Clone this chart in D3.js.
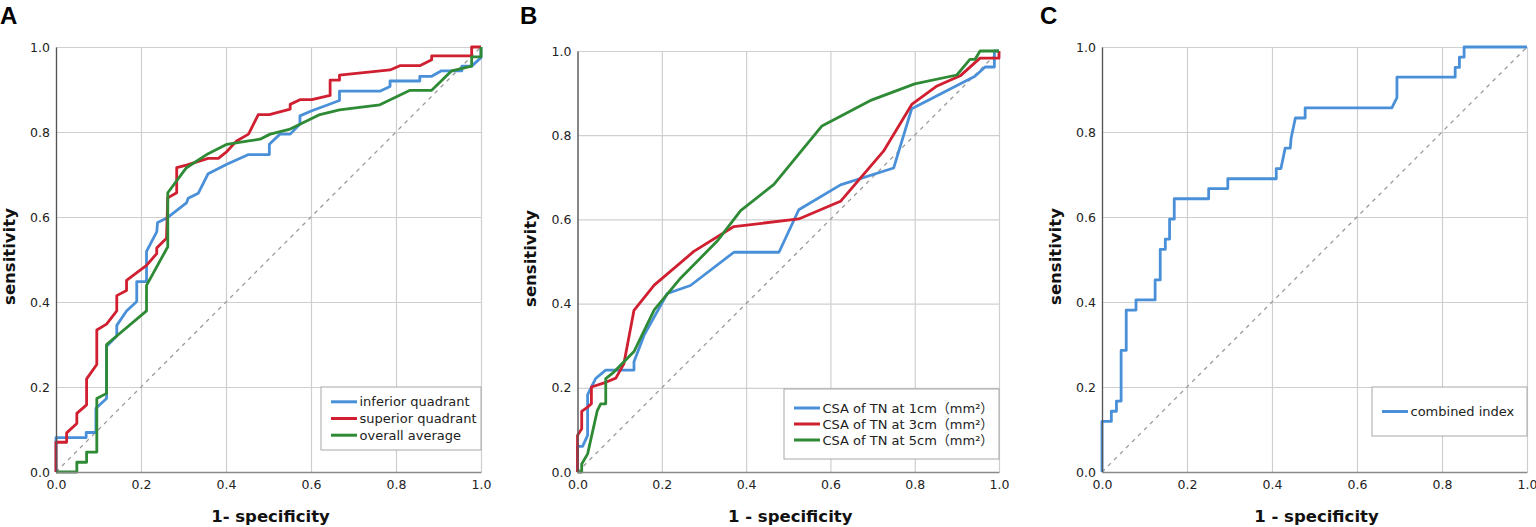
<!DOCTYPE html>
<html>
<head>
<meta charset="utf-8">
<script src="https://cdn.jsdelivr.net/npm/d3@7"></script>
<style>
  body { margin: 0; background: #fff; }
  svg { display: block; font-family: "DejaVu Sans", sans-serif; }
</style>
</head>
<body>
<svg id="chart" width="1536" height="527"></svg>
<script>
// ROC points, as [1 - specificity, sensitivity]

// Panel A
const inferiorQuadrant = [
  [0, 0], [0, 0.081], [0.071, 0.081], [0.071, 0.093], [0.094, 0.093], [0.094, 0.150],
  [0.119, 0.173], [0.119, 0.296], [0.143, 0.320], [0.143, 0.345], [0.166, 0.379],
  [0.190, 0.401], [0.190, 0.448], [0.213, 0.448], [0.213, 0.519], [0.237, 0.565],
  [0.239, 0.587], [0.260, 0.597], [0.307, 0.633], [0.311, 0.644], [0.335, 0.656],
  [0.358, 0.702], [0.402, 0.724], [0.453, 0.747], [0.502, 0.747], [0.502, 0.771],
  [0.527, 0.795], [0.551, 0.795], [0.574, 0.819], [0.574, 0.838], [0.602, 0.850],
  [0.667, 0.874], [0.667, 0.896], [0.762, 0.896], [0.786, 0.907], [0.786, 0.920],
  [0.856, 0.920], [0.856, 0.931], [0.884, 0.931], [0.907, 0.944], [0.955, 0.944],
  [0.955, 0.955], [0.978, 0.955], [1, 0.975], [1, 1]
];
const superiorQuadrant = [
  [0, 0], [0, 0.070], [0.025, 0.070], [0.025, 0.092], [0.049, 0.114], [0.049, 0.138],
  [0.072, 0.158], [0.072, 0.219], [0.096, 0.253], [0.096, 0.334], [0.119, 0.348],
  [0.143, 0.379], [0.143, 0.415], [0.166, 0.427], [0.166, 0.451], [0.213, 0.486],
  [0.237, 0.514], [0.237, 0.527], [0.260, 0.550], [0.263, 0.645], [0.284, 0.657],
  [0.284, 0.716], [0.307, 0.722], [0.358, 0.738], [0.382, 0.738], [0.402, 0.754],
  [0.425, 0.779], [0.453, 0.795], [0.476, 0.841], [0.502, 0.841], [0.551, 0.854],
  [0.551, 0.865], [0.574, 0.876], [0.602, 0.876], [0.645, 0.886], [0.645, 0.922],
  [0.667, 0.922], [0.667, 0.934], [0.786, 0.946], [0.809, 0.956], [0.856, 0.956],
  [0.884, 0.970], [0.884, 0.979], [0.978, 0.979], [0.978, 1], [1, 1]
];
const overallAverage = [
  [0, 0], [0.049, 0], [0.049, 0.023], [0.072, 0.023], [0.072, 0.047], [0.096, 0.047],
  [0.096, 0.173], [0.119, 0.185], [0.119, 0.300], [0.213, 0.379], [0.213, 0.439],
  [0.263, 0.530], [0.263, 0.657], [0.307, 0.716], [0.358, 0.749], [0.402, 0.771],
  [0.453, 0.779], [0.480, 0.783], [0.504, 0.795], [0.551, 0.807], [0.621, 0.841],
  [0.667, 0.852], [0.762, 0.864], [0.833, 0.898], [0.884, 0.898], [0.931, 0.944],
  [0.978, 0.955], [0.978, 0.977], [1, 0.977], [1, 1]
];

// Panel B
const csa1cm = [
  [0, 0], [0, 0.061], [0.012, 0.061], [0.024, 0.087], [0.024, 0.184], [0.043, 0.222],
  [0.067, 0.242], [0.134, 0.242], [0.134, 0.262], [0.158, 0.325], [0.213, 0.424],
  [0.268, 0.443], [0.371, 0.522], [0.478, 0.522], [0.525, 0.623], [0.624, 0.682],
  [0.750, 0.722], [0.793, 0.863], [0.943, 0.940], [0.967, 0.962], [0.989, 0.962],
  [0.989, 1], [1, 1]
];
const csa3cm = [
  [0, 0], [0, 0.087], [0.010, 0.103], [0.010, 0.144], [0.024, 0.154], [0.033, 0.162],
  [0.033, 0.202], [0.067, 0.213], [0.091, 0.223], [0.110, 0.257], [0.134, 0.384],
  [0.182, 0.444], [0.276, 0.524], [0.371, 0.583], [0.525, 0.601], [0.624, 0.643],
  [0.726, 0.762], [0.793, 0.873], [0.853, 0.917], [0.908, 0.941], [0.955, 0.983],
  [1, 0.983], [1, 1]
];
const csa5cm = [
  [0, 0], [0.010, 0], [0.010, 0.019], [0.024, 0.043], [0.047, 0.146], [0.055, 0.162],
  [0.067, 0.162], [0.067, 0.222], [0.087, 0.238], [0.134, 0.286], [0.182, 0.385],
  [0.245, 0.461], [0.331, 0.548], [0.387, 0.621], [0.466, 0.683], [0.580, 0.822],
  [0.694, 0.882], [0.800, 0.922], [0.900, 0.943], [0.931, 0.980], [0.943, 0.980],
  [0.955, 1], [1, 1]
];

// Panel C
const combinedIndex = [
  [0, 0], [0, 0.119], [0.022, 0.119], [0.022, 0.143], [0.034, 0.143], [0.034, 0.167],
  [0.045, 0.167], [0.045, 0.286], [0.057, 0.286], [0.057, 0.381], [0.080, 0.381],
  [0.080, 0.405], [0.125, 0.405], [0.125, 0.452], [0.137, 0.452], [0.137, 0.524],
  [0.149, 0.524], [0.149, 0.548], [0.159, 0.548], [0.159, 0.595], [0.170, 0.595],
  [0.170, 0.643], [0.251, 0.643], [0.251, 0.667], [0.296, 0.667], [0.296, 0.690],
  [0.410, 0.690], [0.410, 0.714], [0.421, 0.714], [0.431, 0.762], [0.443, 0.762],
  [0.445, 0.786], [0.455, 0.833], [0.478, 0.833], [0.478, 0.857], [0.682, 0.857],
  [0.694, 0.881], [0.694, 0.929], [0.831, 0.929], [0.831, 0.952], [0.841, 0.952],
  [0.841, 0.976], [0.852, 0.976], [0.852, 1], [1, 1]
];

const axisTicks = [0, 0.2, 0.4, 0.6, 0.8, 1.0];

const seriesLabelsA = ['inferior quadrant', 'superior quadrant', 'overall average'];
const seriesLabelsB = ['CSA of TN at 1cm（mm²）', 'CSA of TN at 3cm（mm²）', 'CSA of TN at 5cm（mm²）'];
const seriesLabelsC = ['combined index'];

const BLUE = '#4a90d9';
const RED = '#d01f30';
const GREEN = '#2e8a35';

const panels = [
  {
    letter: 'A', letterX: 0, left: 56, top: 47, width: 425, height: 425,
    xTitle: '1- specificity',
    series: [
      { label: seriesLabelsA[0], color: BLUE, points: inferiorQuadrant },
      { label: seriesLabelsA[1], color: RED, points: superiorQuadrant },
      { label: seriesLabelsA[2], color: GREEN, points: overallAverage }
    ],
    legend: { width: 160, height: 63, bottomGap: 22, rowHeight: 16.7 }
  },
  {
    letter: 'B', letterX: 520, left: 577.5, top: 51, width: 421.5, height: 421,
    xTitle: '1 - specificity',
    series: [
      { label: seriesLabelsB[0], color: BLUE, points: csa1cm },
      { label: seriesLabelsB[1], color: RED, points: csa3cm },
      { label: seriesLabelsB[2], color: GREEN, points: csa5cm }
    ],
    legend: { width: 215, height: 70, bottomGap: 13, rowHeight: 16 }
  },
  {
    letter: 'C', letterX: 1040, left: 1102, top: 47, width: 425, height: 425,
    xTitle: '1 - specificity',
    series: [
      { label: seriesLabelsC[0], color: BLUE, points: combinedIndex }
    ],
    legend: { width: 155, height: 49, bottomGap: 36, rowHeight: 16.7 }
  }
];

const svg = d3.select('#chart');

function drawPanel(p) {
  const x = d3.scaleLinear().domain([0, 1]).range([0, p.width]);
  const y = d3.scaleLinear().domain([0, 1]).range([p.height, 0]);

  // panel letter
  svg.append('text')
    .attr('x', p.letterX)
    .attr('y', 24)
    .attr('font-family', '"Liberation Sans", Arial, sans-serif')
    .attr('font-weight', 'bold')
    .attr('font-size', 24)
    .attr('fill', '#000')
    .text(p.letter);

  const g = svg.append('g').attr('transform', `translate(${p.left},${p.top})`);

  // grid
  g.append('g')
    .attr('class', 'grid')
    .call(d3.axisBottom(x).tickValues(axisTicks).tickSize(-p.height).tickFormat(''))
    .attr('transform', `translate(0,${p.height})`)
    .call(s => s.select('.domain').remove())
    .call(s => s.selectAll('line').attr('stroke', '#cfcfcf').attr('stroke-width', 1.2));
  g.append('g')
    .attr('class', 'grid')
    .call(d3.axisLeft(y).tickValues(axisTicks).tickSize(-p.width).tickFormat(''))
    .call(s => s.select('.domain').remove())
    .call(s => s.selectAll('line').attr('stroke', '#cfcfcf').attr('stroke-width', 1.2));

  // chance line
  g.append('line')
    .attr('x1', x(0)).attr('y1', y(0))
    .attr('x2', x(1)).attr('y2', y(1))
    .attr('stroke', '#9a9a9a')
    .attr('stroke-width', 1.3)
    .attr('stroke-dasharray', '4,4.5');

  // curves
  const line = d3.line().x(d => x(d[0])).y(d => y(d[1]));
  p.series.forEach(s => {
    g.append('path')
      .datum(s.points)
      .attr('fill', 'none')
      .attr('stroke', s.color)
      .attr('stroke-width', 2.8)
      .attr('stroke-linejoin', 'round')
      .attr('d', line);
  });

  // axes
  const yAxis = g.append('g')
    .call(d3.axisLeft(y).tickValues(axisTicks).tickSize(0).tickPadding(6).tickFormat(d3.format('.1f')));
  yAxis.select('.domain').attr('stroke', '#555').attr('stroke-width', 1.3);
  yAxis.selectAll('text').attr('font-size', 12.5).attr('fill', '#222')
    .attr('font-family', '"DejaVu Sans", sans-serif');

  const xAxis = g.append('g')
    .attr('transform', `translate(0,${p.height})`)
    .call(d3.axisBottom(x).tickValues(axisTicks).tickSize(0).tickPadding(8).tickFormat(d3.format('.1f')));
  xAxis.select('.domain').attr('stroke', '#8a8a8a').attr('stroke-width', 1.6);
  xAxis.selectAll('text').attr('font-size', 12.5).attr('fill', '#222')
    .attr('font-family', '"DejaVu Sans", sans-serif');

  // axis titles
  g.append('text')
    .attr('transform', `translate(-47,${p.height / 2 - 3}) rotate(-90)`)
    .attr('dy', '0.35em')
    .attr('text-anchor', 'middle')
    .attr('font-weight', 'bold')
    .attr('font-size', 16.5)
    .attr('fill', '#111')
    .text('sensitivity');

  g.append('text')
    .attr('x', p.width / 2 + 2)
    .attr('y', 522 - p.top)
    .attr('text-anchor', 'middle')
    .attr('font-weight', 'bold')
    .attr('font-size', 16.5)
    .attr('fill', '#111')
    .text(p.xTitle);

  // legend
  const lg = p.legend;
  const legend = g.append('g')
    .attr('transform', `translate(${p.width - lg.width},${p.height - lg.bottomGap - lg.height})`);
  legend.append('rect')
    .attr('width', lg.width)
    .attr('height', lg.height)
    .attr('fill', '#fff')
    .attr('stroke', '#a8a8a8')
    .attr('stroke-width', 1);
  const firstRow = (lg.height - lg.rowHeight * p.series.length) / 2 + lg.rowHeight / 2;
  p.series.forEach((s, i) => {
    const cy = firstRow + i * lg.rowHeight;
    legend.append('line')
      .attr('x1', 10).attr('x2', 36)
      .attr('y1', cy).attr('y2', cy)
      .attr('stroke', s.color)
      .attr('stroke-width', 3);
    legend.append('text')
      .attr('x', 38.5)
      .attr('y', cy)
      .attr('dy', '0.35em')
      .attr('font-size', 13)
      .attr('fill', '#222')
      .attr('font-family', '"DejaVu Sans", "Noto Sans CJK SC", sans-serif')
      .text(s.label);
  });
}

panels.forEach(drawPanel);
</script>
</body>
</html>
